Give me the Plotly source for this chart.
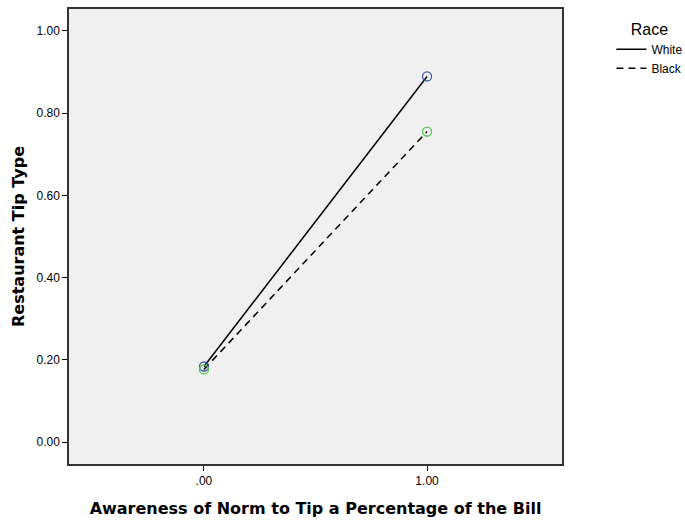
import plotly.graph_objects as go

x_vals = [0, 1]
white_vals = [0.184, 0.889]
black_vals = [0.177, 0.755]
series_names = ["White", "Black"]
x_tick_vals = [0, 1]
x_tick_text = [".00", "1.00"]
y_tick_vals = [0, 0.2, 0.4, 0.6, 0.8, 1.0]
y_tick_text = ["0.00", "0.20", "0.40", "0.60", "0.80", "1.00"]

title_font = dict(size=16, family="DejaVu Sans, Liberation Sans, Arial")

fig = go.Figure()
fig.add_trace(go.Scatter(x=x_vals, y=white_vals, mode="lines", name=series_names[0],
                         line=dict(color="black", width=1.5)))
fig.add_trace(go.Scatter(x=x_vals, y=black_vals, mode="lines", name=series_names[1],
                         line=dict(color="black", width=1.5, dash="7px,5px")))
fig.add_trace(go.Scatter(x=x_vals, y=white_vals, mode="markers", showlegend=False,
                         marker=dict(symbol="circle-open", size=9, color="#3A56B0",
                                     line=dict(width=1.3, color="#3A56B0"))))
fig.add_trace(go.Scatter(x=x_vals, y=black_vals, mode="markers", showlegend=False,
                         marker=dict(symbol="circle-open", size=9, color="#4CC84A",
                                     line=dict(width=1.3, color="#4CC84A"))))

fig.update_layout(
    width=685, height=525,
    margin=dict(l=69, r=123, t=7, b=61),
    paper_bgcolor="white", plot_bgcolor="#F0F0F0",
    font=dict(family="Liberation Sans, Arial", color="black", size=12),
    xaxis=dict(range=[-0.605, 1.605], tickvals=x_tick_vals, ticktext=x_tick_text,
               showgrid=False, zeroline=False, ticks="outside", ticklen=5, tickcolor="black",
               showline=True, linecolor="#333333", linewidth=1.5, mirror=True,
               title=dict(text="<b>Awareness of Norm to Tip a Percentage of the Bill</b>",
                          font=title_font, standoff=16)),
    yaxis=dict(range=[-0.053, 1.053], tickvals=y_tick_vals, ticktext=y_tick_text,
               showgrid=False, zeroline=False, ticks="outside", ticklen=5, tickcolor="black",
               showline=True, linecolor="#333333", linewidth=1.5, mirror=True,
               title=dict(text="<b>Restaurant Tip Type</b>", font=title_font, standoff=8)),
    legend=dict(xref="container", yref="container", x=0.8926, y=0.9736,
                xanchor="left", yanchor="top",
                title=dict(text="Race", font=dict(size=16), side="top center"),
                font=dict(size=12), bgcolor="rgba(0,0,0,0)", tracegroupgap=0,
                itemwidth=30),
    showlegend=True,
)

fig.write_html("out.html", post_script="document.body.style.margin='0';",
               config={"displayModeBar": False})
